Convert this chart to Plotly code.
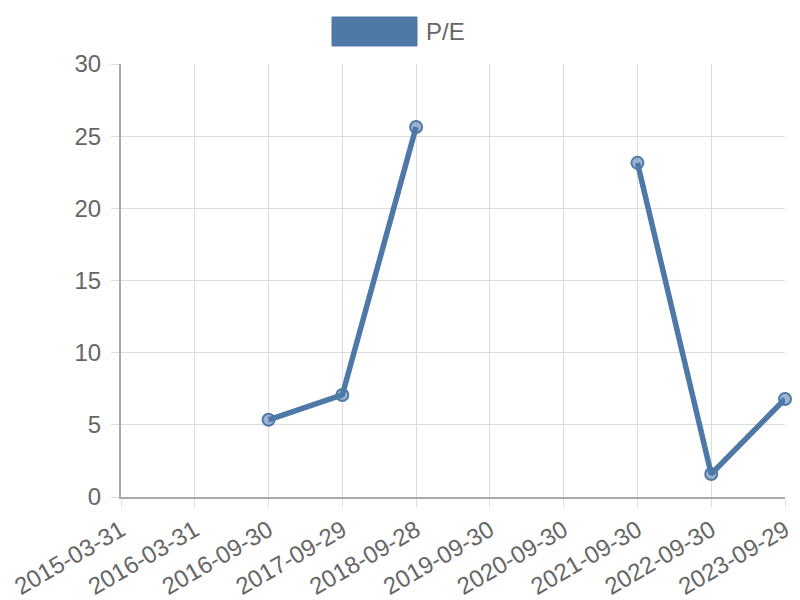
import plotly.graph_objects as go

dates = ["2015-03-31", "2016-03-31", "2016-09-30", "2017-09-29", "2018-09-28",
         "2019-09-30", "2020-09-30", "2021-09-30", "2022-09-30", "2023-09-29"]
pe = [None, None, 5.35, 7.07, 25.64, None, None, 23.15, 1.59, 6.79]
series_name = "P/E"

line_color = "#4e79a7"
fig = go.Figure()
fig.add_trace(go.Scatter(
    x=dates, y=pe, mode="lines+markers", name=series_name,
    line=dict(color=line_color, width=5.5),
    marker=dict(size=12, color="rgba(78,121,167,0.55)", line=dict(color=line_color, width=2)),
    connectgaps=False, cliponaxis=False, showlegend=False,
))

font = dict(family="Liberation Sans, Arial, sans-serif", size=24, color="#666")
fig.update_layout(
    width=792, height=592,
    margin=dict(l=113, r=15, t=56, b=103),
    paper_bgcolor="white", plot_bgcolor="white",
    font=font,
    xaxis=dict(type="category", range=[0, 9], showgrid=True, gridcolor="#dcdcdc", gridwidth=1,
               showline=True, linecolor="#a8a8a8", linewidth=2, ticks="outside", ticklen=8,
               tickcolor="#dcdcdc", tickangle=-30, tickfont=font, zeroline=False, automargin=False),
    yaxis=dict(range=[0, 30], dtick=5, showgrid=True, gridcolor="#dcdcdc", gridwidth=1,
               showline=True, linecolor="#a8a8a8", linewidth=2, ticks="outside", ticklen=8,
               tickcolor="#dcdcdc", tickfont=font, zeroline=False, automargin=False,
               ticklabelstandoff=5),
    showlegend=False,
)
# custom legend (Chart.js style wide box)
fig.add_shape(type="rect", xref="paper", yref="paper",
              x0=(332 - 121) / 664, x1=(417 - 121) / 664,
              y0=(497 - 46) / 433, y1=(497 - 17) / 433,
              fillcolor=line_color, line=dict(color=line_color, width=1))
fig.add_annotation(xref="paper", yref="paper", x=(424 - 121) / 664, y=(497 - 32) / 433,
                   text=series_name, showarrow=False, xanchor="left", yanchor="middle",
                   font=font)
fig.write_html("out.html")
